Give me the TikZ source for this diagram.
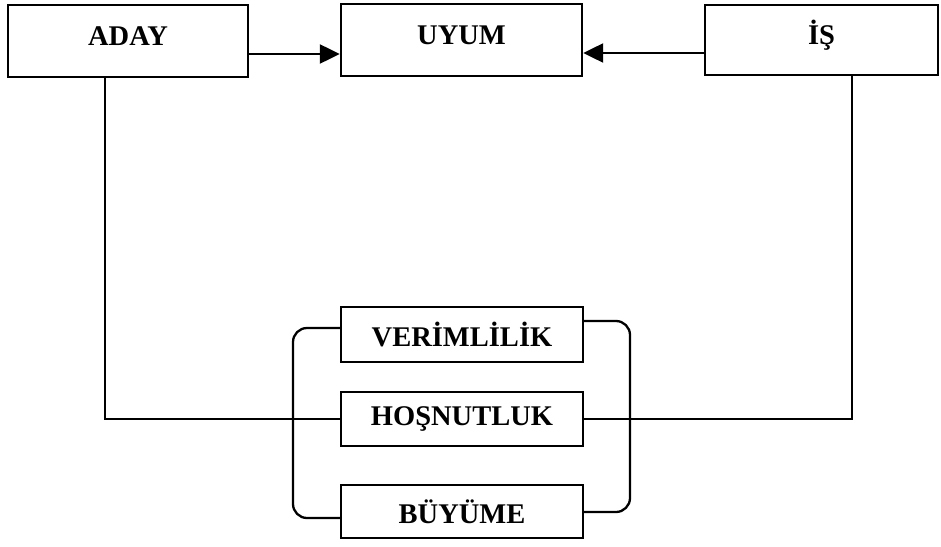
\documentclass[tikz,border=0pt]{standalone}
\usepackage{fontspec}
\setmainfont{Liberation Serif}
\usepackage{tikz}
\usetikzlibrary{arrows.meta}
\tikzset{
  kutu/.style={draw=black, line width=2.4pt, rectangle, inner sep=0pt,
    font=\fontsize{28.5}{31}\selectfont\bfseries},
  ustkutu/.style={kutu, minimum height=72pt, text height=19pt, text depth=10pt},
  hat/.style={draw=black, line width=2.3pt},
  ok/.style={hat, -{Triangle[length=20pt,width=19pt]}}
}

\begin{document}
\begin{tikzpicture}[x=1pt,y=-1pt]
  \useasboundingbox (0,0) rectangle (941,546);

  % ust kutular
  \node[ustkutu, minimum width=240pt] (aday) at (128,41) {ADAY};
  \node[ustkutu, minimum width=241pt] (uyum) at (461.5,40) {UYUM};
  \node[ustkutu, minimum width=233pt, minimum height=70pt] (is) at (821.5,40) {İŞ};

  % alt kutular
  \node[kutu, minimum width=242pt, minimum height=55pt] (ver) at (462,334.5) {VERİMLİLİK};
  \node[kutu, minimum width=242pt, minimum height=54pt] (hos) at (462,419) {HOŞNUTLUK};
  \node[kutu, minimum width=242pt, minimum height=53pt] (buy) at (462,511.5) {BÜYÜME};

  \coordinate (aL) at (105,0);
  \coordinate (iR) at (852,0);

  % oklar
  \draw[ok] (aday.east |- 0,54) -- (uyum.west |- 0,54);
  \draw[ok] (is.west |- 0,53) -- (uyum.east |- 0,53);

  % baglantilar
  \draw[hat] (aday.south -| aL) |- (hos.west);
  \draw[hat] (is.south -| iR) |- (hos.east);

  % ayraclar
  \draw[hat, rounded corners=14pt] (ver.west |- 0,328) -- (293,328) -- (293,518) -- (buy.west |- 0,518);
  \draw[hat, rounded corners=14pt] (ver.east |- 0,321) -- (630,321) -- (630,512) -- (buy.east |- 0,512);
\end{tikzpicture}
\end{document}
